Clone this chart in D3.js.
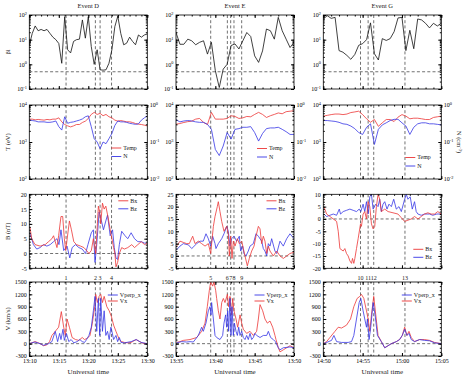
<!DOCTYPE html>
<html>
<head>
<meta charset="utf-8">
<script src="https://cdn.jsdelivr.net/npm/d3@7"></script>
<style>
body { margin: 0; background: #fff; }
</style>
</head>
<body>
<svg id="chart"></svg>
<script>
const width = 467, height = 379
const serif = '"Liberation Serif", "DejaVu Serif", serif'

// ---------- data ----------
const eventNames = ["Event D", "Event E", "Event G"]
const timeTicksD = ["13:10", "13:15", "13:20", "13:25", "13:30"]
const timeTicksE = ["13:35", "13:40", "13:45", "13:50"]
const timeTicksG = ["14:50", "14:55", "15:00", "15:05"]

// event markers, minutes after the panel start
const marksD = [6.23, 11.2, 12.0, 13.94], markLabelsD = ["1", "2", "3", "4"]
const marksE = [4.41, 6.53, 6.95, 7.37, 8.35], markLabelsE = ["5", "6", "7", "8", "9"]
const marksG = [4.73, 5.7, 6.41, 10.38], markLabelsG = ["10", "11", "12", "13"]

// beta, temperature (eV) and density (cm^-3), sampled every half minute
const sampleStep = 0.5
const betaD = [6, 18, 36, 23, 26, 23, 26, 18, 12.6, 10, 7, 1.1, 85, 3.9, 2.9, 8.5, 10, 10.5, 63, 11.5, 85, 5.3, 1, 3.9, 0.6, 0.58, 0.6, 1.1, 3.9, 34, 90, 18, 6.2, 7.2, 12.6, 8.5, 6.2, 15.5, 12.6, 15.5, 17]
const tempD = [4150, 4150, 3980, 4070, 3980, 3900, 4070, 3980, 4150, 4150, 4500, 3510, 2970, 2730, 2560, 2730, 2970, 2970, 3370, 3660, 4330, 5560, 6320, 5560, 5930, 5130, 5560, 4810, 4500, 3900, 3660, 3800, 3660, 3510, 3510, 3370, 3160, 3030, 2970, 2850, 2730]
const nD = [0.39, 0.38, 0.37, 0.35, 0.35, 0.35, 0.34, 0.34, 0.35, 0.37, 0.26, 0.21, 0.48, 0.32, 0.34, 0.35, 0.37, 0.39, 0.42, 0.48, 0.51, 0.26, 0.123, 0.1, 0.066, 0.1, 0.09, 0.123, 0.17, 0.28, 0.37, 0.35, 0.35, 0.34, 0.32, 0.31, 0.30, 0.31, 0.39, 0.45, 0.51]

const betaE = [19.5, 6.5, 6.5, 10.5, 9, 6.2, 7.8, 9, 2.6, 7.8, 0.55, 0.115, 0.64, 1.0, 5.8, 6.7, 4.2, 9, 19.5, 13.4, 2.2, 1.2, 3.5, 27, 23, 10.5, 80, 23, 10.5, 4.8, 7.8]
const tempE = [3020, 3160, 3370, 3550, 3660, 4150, 4330, 3370, 2970, 6320, 4150, 4150, 4150, 4330, 5130, 4900, 4330, 4500, 4900, 4800, 5560, 6320, 5560, 4600, 5130, 5560, 6100, 5800, 6600, 6800, 7000]
const nE = [0.4, 0.35, 0.37, 0.38, 0.37, 0.35, 0.34, 0.34, 0.30, 0.22, 0.063, 0.043, 0.078, 0.18, 0.12, 0.22, 0.23, 0.25, 0.25, 0.26, 0.18, 0.106, 0.17, 0.23, 0.24, 0.24, 0.25, 0.22, 0.19, 0.16, 0.16]

const betaG = [69, 94, 73, 80, 3.6, 3.1, 2.3, 1.6, 2.5, 5.9, 6.9, 10, 48, 2.7, 1.5, 11, 9.3, 11, 21, 76, 80, 3.6, 24, 4.3, 69, 63, 46, 30, 46, 36, 46]
const tempG = [5000, 5250, 5500, 5700, 5700, 5500, 5700, 6250, 6500, 6800, 5500, 4240, 3420, 4050, 2650, 3300, 4050, 4050, 3580, 4700, 5500, 5000, 4240, 4400, 4400, 4240, 4050, 4050, 4600, 4800, 5000]
const nG = [0.38, 0.38, 0.37, 0.36, 0.34, 0.31, 0.30, 0.27, 0.23, 0.18, 0.16, 0.25, 0.31, 0.086, 0.22, 0.29, 0.33, 0.38, 0.41, 0.41, 0.33, 0.27, 0.16, 0.25, 0.31, 0.33, 0.33, 0.31, 0.31, 0.30, 0.29]

// magnetic field (nT) and velocity (km/s) as [minute, value]
const bxD = [[0.11, 9], [0.4, 5], [0.97, 3], [1.83, 2.5], [2.69, 3], [3.26, 4], [3.83, 5], [4.11, 6], [4.4, 4], [4.69, 2], [4.97, 6], [5.37, 12.5], [5.66, 12.5], [5.94, 5], [6.17, 1], [6.8, 11], [7.14, 8], [7.54, 4], [8.0, 3], [8.69, 2.5], [9.26, 2], [9.71, 1], [10.11, 0], [10.51, 1], [10.86, 5], [11.26, 0], [11.54, 10], [11.71, 16], [11.94, 14], [12.11, 10], [12.4, 17], [12.69, 15], [12.97, 16], [13.37, 12], [13.71, 8], [14.0, 5], [14.29, 2], [14.51, 0], [14.69, -4.5], [14.97, -3], [15.26, 0], [15.66, 2], [16.11, 1.5], [16.69, 2], [17.37, 3], [17.83, 2], [18.4, 3], [18.97, 4], [19.54, 3], [20, 3.5]]
const bzD = [[0.1, 7], [0.7, 3], [1.26, 1.5], [1.83, 2], [2.4, 3], [2.97, 2.5], [3.54, 3], [4.11, 4], [4.69, 5], [5.03, 3], [5.37, 8], [5.83, 1], [6.4, 2.5], [6.86, -1.5], [7.26, 2], [7.83, 3], [8.4, 2], [8.97, 1.5], [9.54, 0], [9.94, 3], [10.51, 7], [10.86, 8], [11.14, -3], [11.43, 3], [11.83, 14], [12.11, 12], [12.57, 8], [12.97, 11], [13.26, 13], [13.71, 6], [14.11, 8], [14.4, 2], [14.69, -1.5], [14.97, -2], [15.26, 3], [15.66, 7.5], [16.23, 6], [16.69, 5], [17.26, 7], [17.83, 5], [18.4, 4], [18.97, 4], [19.54, 3.5], [20, 3.5]]
const vxD = [[0, 0], [0.4, 20], [0.97, 50], [1.37, 30], [1.83, 0], [2.4, -50], [2.97, -30], [3.43, 50], [3.83, 200], [4.4, 300], [4.97, 400], [5.43, 780], [5.83, 400], [6.11, 200], [6.4, 600], [6.8, 400], [7.26, 150], [7.83, 100], [8.4, 80], [8.97, 150], [9.37, 100], [9.83, 130], [10.29, 200], [10.69, 500], [11.09, 900], [11.26, 1200], [11.54, 1000], [11.83, 1150], [12.11, 1200], [12.4, 1000], [12.69, 1150], [13.14, 900], [13.54, 800], [13.94, 650], [14.29, 450], [14.69, 300], [14.97, 200], [15.26, 100], [15.66, 50], [16.11, 30], [16.69, 20], [17.26, 30], [18.11, 100], [18.69, 50], [19.26, 10], [20, 0]]
const vperpD = [[0, 0], [0.4, 20], [0.97, 40], [1.83, 0], [2.4, -40], [3.26, 0], [3.83, 50], [4.4, 300], [4.8, 50], [5.14, 250], [5.37, 100], [5.71, 350], [5.94, 80], [6.29, 250], [6.69, 50], [7.09, 100], [7.54, 20], [8.11, 50], [8.57, 100], [8.97, 50], [9.37, 30], [9.71, 100], [10.11, 200], [10.51, 400], [10.86, 800], [11.14, 1150], [11.43, 300], [11.71, 1100], [11.94, 200], [12.11, 1100], [12.4, 300], [12.69, 800], [12.97, 200], [13.26, 300], [13.54, 100], [13.83, 400], [14.0, 300], [14.29, 100], [14.69, 200], [14.97, 50], [15.26, 150], [15.54, 30], [16.11, 20], [17.26, 50], [18.11, 100], [18.97, 30], [20, 0]]

const bxE = [[0.08, 4], [0.51, 6], [0.93, 5.5], [1.36, 5], [1.69, 5], [2.12, 8], [2.42, 5], [2.84, 6], [3.26, 5], [3.69, 4], [4.11, 5], [4.41, 1], [4.53, 5], [4.75, 12], [4.96, 16], [5.25, 20], [5.38, 22], [5.59, 18], [5.81, 14], [6.1, 10], [6.44, 12], [6.65, 9], [6.78, 0], [6.95, 8], [7.12, -1], [7.29, 6], [7.5, 4], [7.8, 7], [8.05, 5], [8.35, 6], [8.56, 3], [8.77, 0], [9.07, -4], [9.32, -1], [9.62, 2], [9.92, 4], [10.17, 8], [10.47, 12], [10.68, 11], [10.89, 5], [11.1, 8], [11.31, 6], [11.53, 1], [11.74, 4], [11.95, 2], [12.37, 0], [12.8, 2], [13.22, 0], [13.64, -1], [14.07, 0], [14.49, 1], [15, 1.5]]
const bzE = [[0.08, 2.5], [0.51, 4], [0.93, 5], [1.57, 4.5], [2.0, 3], [2.63, 5], [3.05, 6], [3.47, 6], [3.81, 9], [4.11, 7], [4.41, 4], [4.66, 8], [4.96, 5], [5.08, 3], [5.38, 5], [5.81, 7], [6.1, 9], [6.44, 12], [6.65, 10], [6.86, 4], [7.08, 7], [7.37, 8], [7.71, 6], [8.05, 8], [8.22, 2], [8.47, 4], [8.64, 1], [8.9, 0], [9.19, 2], [9.41, 4], [9.83, 5], [10.17, 9], [10.47, 8], [10.89, 6], [11.1, 3], [11.31, 2], [11.53, 0], [11.74, 5], [11.95, 4], [12.16, 7], [12.58, 2], [12.8, 1], [13.22, 6], [13.64, 4], [14.07, 7], [14.49, 9], [15, 7]]
const vxE = [[0.08, 30], [0.51, 50], [0.93, 80], [1.78, 100], [2.63, 150], [3.26, 300], [3.69, 500], [3.98, 900], [4.24, 1300], [4.41, 1500], [4.66, 1400], [4.83, 1500], [5.04, 1300], [5.17, 1100], [5.38, 800], [5.59, 600], [5.81, 1000], [6.02, 1100], [6.23, 1000], [6.53, 1200], [6.69, 900], [6.86, 1150], [7.08, 700], [7.2, 1100], [7.37, 800], [7.63, 600], [7.84, 400], [8.14, 700], [8.35, 500], [8.56, 350], [8.98, 250], [9.41, 300], [9.83, 200], [10.25, 300], [10.47, 600], [10.68, 950], [11.02, 800], [11.31, 600], [11.61, 500], [11.95, 550], [12.29, 400], [12.58, 200], [12.71, 100], [13.01, -100], [13.22, -200], [13.64, -150], [14.07, -100], [14.49, -50], [15, -100]]
const vperpE = [[0.08, 20], [0.72, 50], [1.36, 40], [1.78, 50], [2.2, 40], [2.84, 200], [3.26, 400], [3.47, 300], [3.81, 500], [4.11, 800], [4.32, 900], [4.45, 700], [4.53, 1000], [4.75, 600], [4.96, 200], [5.17, 150], [5.59, 100], [5.93, 200], [6.1, 500], [6.31, 700], [6.44, 400], [6.57, 800], [6.69, 300], [6.86, 1100], [6.99, 200], [7.12, 900], [7.29, 200], [7.42, 500], [7.63, 300], [7.8, 200], [7.97, 400], [8.14, 200], [8.35, 300], [8.56, 150], [8.77, 100], [8.98, 200], [9.19, 100], [9.41, 250], [9.62, 100], [9.83, 150], [10.04, 250], [10.25, 200], [10.68, 150], [11.1, 200], [11.53, 200], [11.74, 300], [12.03, 150], [12.37, 100], [12.63, 50], [13.01, -100], [13.22, -150], [13.64, -100], [14.49, -80], [15, -100]]

const bxG = [[0.08, 5], [0.42, 2], [0.84, 1], [1.27, 0], [1.69, -1], [1.9, -5], [2.11, -12], [2.53, -13], [2.74, -12], [2.95, -14], [3.16, -15], [3.38, -17], [3.59, -18], [3.71, -16], [3.88, -18], [4.01, -16], [4.22, -12], [4.43, -8], [4.73, -2], [4.85, -3], [5.06, 2], [5.27, 3], [5.49, 0], [5.7, 7], [5.91, 5], [6.12, -2], [6.33, -4], [6.54, -3], [6.75, 5], [6.96, 10], [7.17, 8], [7.38, 3], [7.81, 4], [8.23, 3], [8.86, 2.5], [9.49, 2], [9.92, 0.5], [10.34, -1], [10.76, -0.5], [11.18, 0], [11.6, 1], [12.03, 0], [12.45, 1], [12.87, 2], [13.29, 2.5], [13.71, 2], [14.14, 2], [14.56, 3], [14.98, 2]]
const bzG = [[0.08, 2], [0.42, 1], [0.84, 1.5], [1.27, 2], [1.69, 1.5], [2.03, 4], [2.19, 2], [2.53, 3], [2.95, 3.5], [3.38, 4], [3.8, 3.5], [4.22, 3], [4.56, 4], [4.77, 3], [5.06, 6], [5.27, 3], [5.49, 7], [5.7, 2], [5.91, 9], [6.12, 10], [6.33, 4], [6.67, 6], [6.96, 5], [7.17, 8], [7.38, 3], [7.59, 6], [7.81, 7], [8.1, 4], [8.35, 6], [8.65, 5], [8.95, 8], [9.28, 4], [9.62, 5], [9.92, 3], [10.34, 8], [10.55, 10], [10.76, 8], [11.05, 9], [11.31, 4], [11.6, 7], [11.81, 3], [12.03, 2], [12.45, 1.5], [12.87, 2], [13.5, 2], [13.92, 1.5], [14.43, 2], [14.98, 2]]
const vxG = [[0, 0], [0.42, 50], [0.84, 150], [1.48, 300], [1.9, 400], [2.32, 380], [2.95, 450], [3.46, 600], [3.88, 900], [4.3, 1100], [4.64, 1150], [4.85, 1200], [5.15, 1100], [5.49, 800], [5.7, 600], [5.91, 300], [6.12, 700], [6.41, 1150], [6.67, 700], [6.96, 200], [7.38, 50], [7.81, -100], [8.23, -50], [8.65, 0], [9.28, 50], [9.7, 100], [10.04, 200], [10.34, 400], [10.63, 200], [10.89, 300], [11.18, 150], [11.6, 50], [12.24, 100], [12.87, 100], [13.5, 80], [14.14, 30], [14.98, 0]]
const vperpG = [[0, 0], [0.42, 30], [1.05, 80], [1.35, 200], [1.69, 50], [2.32, 30], [3.16, 30], [3.59, 50], [3.88, 200], [4.22, 600], [4.56, 1000], [4.77, 1100], [5.06, 800], [5.27, 600], [5.49, 400], [5.61, 600], [5.82, 100], [6.03, 400], [6.33, 1000], [6.58, 700], [6.88, 200], [7.38, 50], [7.81, -100], [8.23, -50], [8.65, 0], [9.28, 50], [9.7, 100], [10.04, 200], [10.34, 350], [10.63, 200], [10.89, 250], [11.18, 100], [11.6, 50], [12.24, 100], [12.87, 80], [13.5, 70], [14.14, 20], [14.98, 0]]

// ---------- layout ----------
const svg = d3.select("svg#chart")
    .attr("viewBox", [0, 0, width, height])
    .attr("width", width)
    .attr("height", height)
    .attr("font-family", serif)
    .style("background", "#ffffff")

const colX = [29.3, 176, 323.3], panelW = 118
const rowY = [15, 105, 194.3, 282], panelH = 74
const red = "#ec3636", blue = "#3636e6"

const events = [
    {name: eventNames[0], span: 20, xLabels: timeTicksD, beta: betaD, temp: tempD, dens: nD, bx: bxD, bz: bzD, vx: vxD, vperp: vperpD,
        marks: marksD, markLabels: markLabelsD, bDomain: [-5, 20], tLeg: [82, 43], bLeg: [89, 6.5]},
    {name: eventNames[1], span: 15, xLabels: timeTicksE, beta: betaE, temp: tempE, dens: nE, bx: bxE, bz: bzE, vx: vxE, vperp: vperpE,
        marks: marksE, markLabels: markLabelsE, bDomain: [-5, 25], tLeg: [81, 43.5], bLeg: [90.5, 6.5]},
    {name: eventNames[2], span: 15, xLabels: timeTicksG, beta: betaG, temp: tempG, dens: nG, bx: bxG, bz: bzG, vx: vxG, vperp: vperpG,
        marks: marksG, markLabels: markLabelsG, bDomain: [-20, 10], tLeg: [82, 52.5], bLeg: [90, 55]}
]

const sampled = values => values.map((v, i) => [i * sampleStep, v])

function logLabels(a) {
    a.selectAll(".tick text").text(null).each(function (d) {
        const t = d3.select(this)
        t.append("tspan").text("10")
        t.append("tspan").attr("dy", -2.5).attr("font-size", 4.3).text(Math.round(Math.log10(d)))
    })
}

function frame(x, y, o) {
    const [xl, xr] = x.range(), [yb, yt] = y.range()
    const g = svg.append("g")
    const axis = (gen, tx, ty) => g.append("g")
        .attr("transform", `translate(${tx},${ty})`)
        .call(gen)
        .call(a => a.select(".domain").remove())
        .attr("font-family", serif)
        .attr("font-size", 6)
    axis(d3.axisBottom(x).tickValues(o.minorX).tickSize(-1.5).tickFormat(""), 0, yb)
    axis(d3.axisTop(x).tickValues(o.minorX).tickSize(-1.5).tickFormat(""), 0, yt)
    axis(d3.axisBottom(x).tickValues(o.majorX).tickSize(-3).tickPadding(3)
        .tickFormat((d, i) => o.xLabels ? o.xLabels[i] : ""), 0, yb)
    axis(d3.axisTop(x).tickValues(o.majorX).tickSize(-3).tickFormat(""), 0, yt)

    axis(d3.axisLeft(y).tickValues(o.minorY).tickSize(-1.5).tickFormat(""), xl, 0)
    const left = axis(d3.axisLeft(y).tickValues(o.majorY).tickSize(-3).tickPadding(2.5)
        .tickFormat(d => String(d)), xl, 0)
    if (o.log) left.call(logLabels)

    const y2 = o.y2 || y
    axis(d3.axisRight(y2).tickValues(o.minorY2 || o.minorY).tickSize(-1.5).tickFormat(""), xr, 0)
    const right = axis(d3.axisRight(y2).tickValues(o.majorY2 || o.majorY).tickSize(-3).tickPadding(2.5)
        .tickFormat(d => String(d)), xr, 0)
    if (o.y2) right.call(logLabels)
    else right.selectAll(".tick text").remove()

    g.append("rect")
        .attr("x", xl).attr("y", yt)
        .attr("width", xr - xl).attr("height", yb - yt)
        .attr("fill", "none").attr("stroke", "#000").attr("stroke-width", 0.8)
}

function dashed(g, x1, y1, x2, y2) {
    g.append("line")
        .attr("x1", x1).attr("y1", y1).attr("x2", x2).attr("y2", y2)
        .attr("stroke", "#333").attr("stroke-width", 0.7).attr("stroke-dasharray", "3,2.2")
}

function series(g, x, y, pts, color) {
    g.append("path").datum(pts)
        .attr("fill", "none")
        .attr("stroke", color)
        .attr("stroke-width", 0.8)
        .attr("stroke-linejoin", "round")
        .attr("d", d3.line().x(d => x(d[0])).y(d => y(d[1])))
}

function legend(x0, y0, items, gap) {
    items.forEach((it, i) => {
        const yy = y0 + i * gap
        svg.append("line").attr("x1", x0).attr("x2", x0 + 10).attr("y1", yy).attr("y2", yy)
            .attr("stroke", it.color).attr("stroke-width", 0.9)
        svg.append("text").attr("x", x0 + 12).attr("y", yy).attr("dy", "0.33em")
            .attr("font-size", 6).attr("fill", "#222").text(it.label)
    })
}

events.forEach((ev, c) => {
    const x = d3.scaleLinear().domain([0, ev.span]).range([colX[c], colX[c] + panelW])
    const minorX = d3.range(0, ev.span + 0.01, 1)
    const majorX = ev.xLabels.map((_, i) => i * 5)

    svg.append("text")
        .attr("x", colX[c] + panelW / 2).attr("y", 7.5)
        .attr("text-anchor", "middle").attr("font-size", 6.5).attr("fill", "#222")
        .text(ev.name)

    rowY.forEach((top, r) => {
        const clipId = `clip-${r}-${c}`
        svg.append("clipPath").attr("id", clipId)
            .append("rect").attr("x", colX[c]).attr("y", top).attr("width", panelW).attr("height", panelH)
        const g = svg.append("g").attr("clip-path", `url(#${clipId})`)
        const range = [top + panelH, top]
        let y, opts

        if (r === 0) {
            y = d3.scaleLog().domain([0.1, 100]).range(range)
            opts = {log: true, majorY: [0.1, 1, 10, 100], minorY: y.ticks()}
            dashed(g, colX[c], y(0.5), colX[c] + panelW, y(0.5))
            ev.marks.forEach(m => dashed(g, x(m), top, x(m), top + panelH))
            series(g, x, y, sampled(ev.beta), "#111")
        } else if (r === 1) {
            y = d3.scaleLog().domain([100, 1e4]).range(range)
            const y2 = d3.scaleLog().domain([0.01, 1]).range(range)
            opts = {log: true, majorY: [100, 1000, 1e4], minorY: y.ticks(), y2: y2, majorY2: [0.01, 0.1, 1], minorY2: y2.ticks()}
            ev.marks.forEach(m => dashed(g, x(m), top, x(m), top + panelH))
            series(g, x, y, sampled(ev.temp), red)
            series(g, x, y2, sampled(ev.dens), blue)
        } else if (r === 2) {
            y = d3.scaleLinear().domain(ev.bDomain).range(range)
            opts = {majorY: d3.range(ev.bDomain[0], ev.bDomain[1] + 0.1, 5), minorY: d3.range(ev.bDomain[0], ev.bDomain[1] + 0.1, 1)}
            dashed(g, colX[c], y(0), colX[c] + panelW, y(0))
            ev.marks.forEach(m => dashed(g, x(m), top, x(m), top + panelH))
            series(g, x, y, ev.bz, blue)
            series(g, x, y, ev.bx, red)
        } else {
            y = d3.scaleLinear().domain([-300, 1500]).range(range)
            opts = {majorY: d3.range(-300, 1501, 300), minorY: d3.range(-300, 1501, 100)}
            dashed(g, colX[c], y(0), colX[c] + panelW, y(0))
            ev.marks.forEach(m => dashed(g, x(m), top, x(m), top + panelH))
            series(g, x, y, ev.vx, red)
            series(g, x, y, ev.vperp, blue)
        }
        frame(x, y, Object.assign({minorX, majorX, xLabels: r === 3 ? ev.xLabels : null}, opts))
    })

    // marker numbers between the B and V rows
    ev.marks.forEach((m, i) => {
        svg.append("text")
            .attr("x", x(m)).attr("y", rowY[3] - 2)
            .attr("text-anchor", "middle").attr("font-size", 6).attr("fill", "#222")
            .text(ev.markLabels[i])
    })

    svg.append("text")
        .attr("x", colX[c] + panelW / 2).attr("y", 373.5)
        .attr("text-anchor", "middle").attr("font-size", 7).attr("fill", "#222")
        .text("Universal time")

    legend(colX[c] + ev.tLeg[0], rowY[1] + ev.tLeg[1], [{label: "Temp", color: red}, {label: "N", color: blue}], 8.5)
    legend(colX[c] + ev.bLeg[0], rowY[2] + ev.bLeg[1], [{label: "Bx", color: red}, {label: "Bz", color: blue}], 8)
    legend(colX[c] + 78.5, rowY[3] + 13, [{label: "Vperp_x", color: blue}, {label: "Vx", color: red}], 6)
})

// axis titles
const yTitles = ["βi", "T (eV)", "B (nT)", "V (km/s)"]
yTitles.forEach((t, r) => {
    svg.append("text")
        .attr("transform", `translate(8,${rowY[r] + panelH / 2}) rotate(-90)`)
        .attr("text-anchor", "middle").attr("dy", "0.35em")
        .attr("font-size", 6.5).attr("fill", "#222")
        .text(t)
})
const nTitle = svg.append("text")
    .attr("transform", `translate(459,${rowY[1] + panelH / 2}) rotate(90)`)
    .attr("text-anchor", "middle").attr("dy", "0.35em")
    .attr("font-size", 6.5).attr("fill", "#222")
nTitle.append("tspan").text("N (cm")
nTitle.append("tspan").attr("dy", -2.5).attr("font-size", 4.5).text("-3")
nTitle.append("tspan").attr("dy", 2.5).text(")")
</script>
</body>
</html>
